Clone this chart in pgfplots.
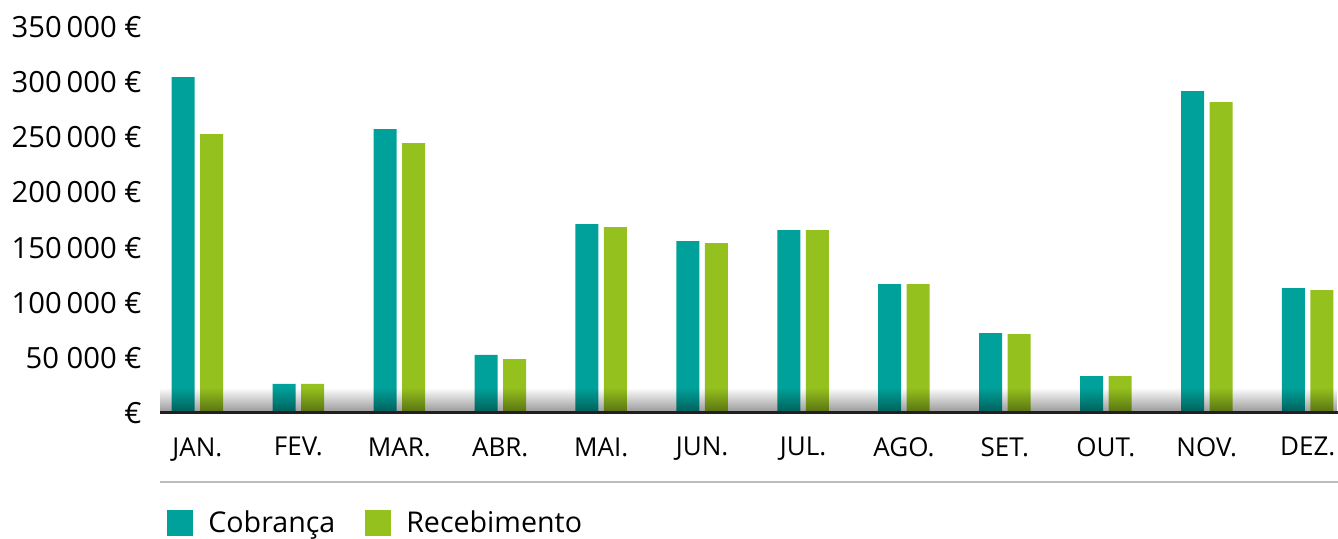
\documentclass[border=0pt]{standalone}
\usepackage{fontspec}
\setmainfont{Open Sans}
\usepackage{pgfplots}
\pgfplotsset{compat=1.18}
\usetikzlibrary{fadings}
\definecolor{teal1}{HTML}{00A19A}
\definecolor{lime1}{HTML}{95C11F}
\definecolor{axisdark}{HTML}{231F20}
\definecolor{sepgray}{HTML}{BDBDBD}
\pgfplotstableread{
x cob rec
0 304500 252900
1 26300 26300
2 257400 244700
3 52600 48900
4 171300 168600
5 155900 154100
6 165900 165900
7 116900 116900
8 72500 71600
9 33500 33500
10 291800 281900
11 113300 111500
}\datatable
\begin{document}
\begin{tikzpicture}
\path[use as bounding box] (-80pt,-63pt) rectangle (589pt,206.5pt);
\begin{axis}[
  scale only axis, width=589pt, height=193pt,
  xmin=-0.371, xmax=11.3, ymin=0, ymax=350000,
  scaled y ticks=false,
  axis x line*=bottom, axis y line*=left,
  y axis line style={draw=none},
  x axis line style={line width=1.5pt, draw=axisdark, -},
  axis on top,
  major tick length=0pt,
  xtick={0,...,11},
  xticklabels={JAN.,FEV.,MAR.,ABR.,MAI.,JUN.,JUL.,AGO.,SET.,OUT.,NOV.,DEZ.},
  ytick={0,50000,100000,150000,200000,250000,300000,350000},
  yticklabels={€,50 000 €,100\,000 €,150\,000 €,200\,000 €,250\,000 €,300\,000 €,350\,000 €},
  yticklabel style={font=\fontsize{14.6}{16}\selectfont, anchor=east, inner sep=0pt, xshift=-9pt},
  xticklabel style={font=\fontsize{13}{14}\selectfont, anchor=north, inner sep=0pt, yshift=-12pt},
  ybar, bar width=11.5pt,
  legend columns=2,
  legend image code/.code={\fill[#1] (0pt,-6.5pt) rectangle (13pt,6.5pt);},
  legend style={at={(0,0)}, anchor=west, xshift=3.5pt, yshift=-55pt, draw=none, fill=none,
    inner sep=0pt, font=\fontsize{14.3}{16}\selectfont,
    /tikz/every odd column/.append style={column sep=5.5pt},
    /tikz/every even column/.append style={column sep=13pt}},
]
\addplot[fill=teal1, draw=none, bar shift=-7.125pt] table[x=x, y=cob] {\datatable};
\addplot[fill=lime1, draw=none, bar shift=7.125pt] table[x=x, y=rec] {\datatable};
\legend{Cobrança, Recebimento}
\fill[black, opacity=0.42, path fading=north] (axis cs:-0.371,0) rectangle (axis cs:11.3,23000);
\end{axis}
\draw[sepgray, line width=1pt] (0pt,-34.5pt) -- (589pt,-34.5pt);
\end{tikzpicture}
\end{document}
